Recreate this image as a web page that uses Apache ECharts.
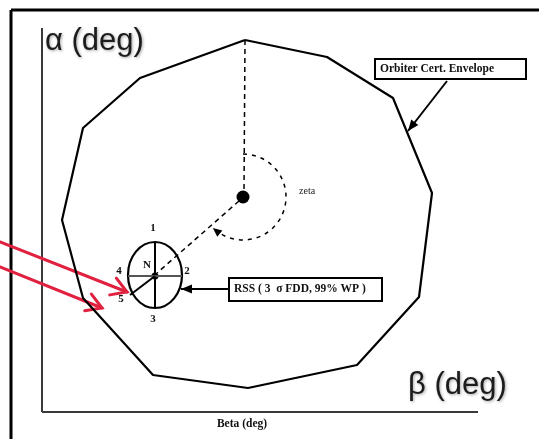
<!DOCTYPE html>
<html>
<head>
<meta charset="utf-8">
<script src="https://cdn.jsdelivr.net/npm/echarts@6/dist/echarts.min.js"></script>
<style>
  html, body { margin: 0; padding: 0; background: #fff; }
  #chart { width: 539px; height: 439px; }
</style>
</head>
<body>
<div id="chart"></div>
<script>
// plot units: x = beta, y = alpha (measured downward, axis inverted)
const envelope = [[245, 40], [327, 57], [393, 98], [432, 193], [419, 297], [357, 365], [248, 388], [153, 375], [83, 298], [62, 220], [83, 128], [140, 78]]
const frameLines = [[11, 10, 539, 10], [11, 10, 11, 439]]
const axisLines = [[42, 28, 42, 412], [42, 412, 478, 412]]
const dashLines = [[245, 40, 244, 191], [239, 201, 157, 273]]
const nominal = [[243, 197]]
const zetaArc = [[243, 197, 43, -90, 129]]
const rssEllipse = [[155, 275, 27, 33]]
const spokes = [[155, 242, 155, 308], [128, 276, 182, 276], [155, 276, 130, 295]]
const blackArrows = [[447, 81, 408, 131], [229, 289, 181, 289]]
const redArrows = [[0, 242, 127, 292], [0, 267, 102, 308]]
const boxes = [[375, 59, 526, 79], [229, 278, 382, 301]]
const bigLabels = [[45, 41, 'α (deg)'], [408, 385, 'β (deg)']]
const noteLabels = [[242, 424, 'Beta (deg)', 'center'], [380, 69, 'Orbiter Cert. Envelope', 'left'], [234, 289, 'RSS ( 3  σ FDD, 99% WP )', 'left']]
const zetaLabel = [[299, 191, 'zeta']]
const pointLabels = [[153, 228, '1'], [187, 271, '2'], [153, 319, '3'], [119, 271, '4'], [121, 299, '5'], [147, 265, 'N']]

const chart = echarts.init(document.getElementById('chart'), null, { renderer: 'canvas' })

const xy = (arr) => arr.map(d => [d[0], d[1]])

function segment (style) {
  return (params, api) => {
    const a = api.coord([api.value(0), api.value(1)])
    const b = api.coord([api.value(2), api.value(3)])
    return { type: 'line', shape: { x1: a[0], y1: a[1], x2: b[0], y2: b[1] }, style }
  }
}

function headPoints (tip, from, len, half) {
  const dx = tip[0] - from[0]
  const dy = tip[1] - from[1]
  const d = Math.sqrt(dx * dx + dy * dy) || 1
  const ux = dx / d
  const uy = dy / d
  const bx = tip[0] - ux * len
  const by = tip[1] - uy * len
  return [tip, [bx - uy * half, by + ux * half], [bx + uy * half, by - ux * half]]
}

function textItem (font, fill, align, list, shadow) {
  return (params, api) => {
    const p = api.coord([api.value(0), api.value(1)])
    const row = list[params.dataIndex]
    const style = {
      text: row[2],
      font,
      fill,
      align: row[3] || align,
      verticalAlign: 'middle'
    }
    if (shadow) {
      style.textShadowColor = 'rgba(0,0,0,0.35)'
      style.textShadowBlur = 3
      style.textShadowOffsetX = 1
      style.textShadowOffsetY = 1
    }
    return { type: 'text', x: p[0], y: p[1], style }
  }
}

const option = {
  animation: false,
  backgroundColor: '#ffffff',
  grid: { left: 0, right: 0, top: 0, bottom: 0 },
  xAxis: { type: 'value', min: 0, max: 539, show: false },
  yAxis: { type: 'value', min: 0, max: 439, inverse: true, show: false },
  series: [
    {
      type: 'custom',
      name: 'frame',
      data: frameLines,
      renderItem: segment({ stroke: '#000', lineWidth: 3 })
    },
    {
      type: 'custom',
      name: 'axes',
      data: axisLines,
      renderItem: segment({ stroke: '#3a3a3a', lineWidth: 2 })
    },
    {
      type: 'line',
      name: 'Orbiter Cert. Envelope',
      data: envelope.concat([envelope[0]]),
      symbol: 'none',
      lineStyle: { color: '#000', width: 2.2 }
    },
    {
      type: 'custom',
      name: 'guides',
      data: dashLines,
      renderItem: segment({ stroke: '#000', lineWidth: 1.5, lineDash: [5, 4] })
    },
    {
      type: 'custom',
      name: 'zeta',
      data: zetaArc,
      renderItem: (params, api) => {
        const c = api.coord([api.value(0), api.value(1)])
        const r = api.size([api.value(2), 0])[0]
        const a0 = api.value(3) * Math.PI / 180
        const a1 = api.value(4) * Math.PI / 180
        const end = [c[0] + r * Math.cos(a1), c[1] + r * Math.sin(a1)]
        const back = [end[0] + Math.sin(a1) * 6, end[1] - Math.cos(a1) * 6]
        return {
          type: 'group',
          children: [
            { type: 'arc', shape: { cx: c[0], cy: c[1], r, startAngle: a0, endAngle: a1, clockwise: true }, style: { stroke: '#000', fill: null, lineWidth: 1.5, lineDash: [4, 5] } },
            { type: 'polygon', shape: { points: headPoints([end[0] - Math.sin(a1) * 4, end[1] + Math.cos(a1) * 4], back, 9, 4) }, style: { fill: '#000' } }
          ]
        }
      }
    },
    {
      type: 'custom',
      name: 'nominal',
      data: nominal,
      renderItem: (params, api) => {
        const c = api.coord([api.value(0), api.value(1)])
        return { type: 'circle', shape: { cx: c[0], cy: c[1], r: 6.5 }, style: { fill: '#000' } }
      }
    },
    {
      type: 'custom',
      name: 'RSS',
      data: rssEllipse,
      renderItem: (params, api) => {
        const c = api.coord([api.value(0), api.value(1)])
        const s = api.size([api.value(2), api.value(3)])
        return {
          type: 'group',
          children: [
            { type: 'ellipse', shape: { cx: c[0], cy: c[1], rx: s[0], ry: s[1] }, style: { stroke: '#000', fill: null, lineWidth: 2.2 } },
            { type: 'circle', shape: { cx: c[0], cy: c[1] + 1, r: 3.5 }, style: { fill: '#000' } }
          ]
        }
      }
    },
    {
      type: 'custom',
      name: 'spokes',
      data: spokes,
      renderItem: (params, api) => {
        const a = api.coord([api.value(0), api.value(1)])
        const b = api.coord([api.value(2), api.value(3)])
        const grey = params.dataIndex === 1
        return { type: 'line', shape: { x1: a[0], y1: a[1], x2: b[0], y2: b[1] }, style: { stroke: grey ? '#555' : '#000', lineWidth: 2 } }
      }
    },
    {
      type: 'custom',
      name: 'boxes',
      data: boxes,
      renderItem: (params, api) => {
        const a = api.coord([api.value(0), api.value(1)])
        const b = api.coord([api.value(2), api.value(3)])
        return { type: 'rect', shape: { x: a[0], y: a[1], width: b[0] - a[0], height: b[1] - a[1] }, style: { stroke: '#000', fill: '#fff', lineWidth: 2 } }
      }
    },
    {
      type: 'custom',
      name: 'pointers',
      data: blackArrows,
      renderItem: (params, api) => {
        const a = api.coord([api.value(0), api.value(1)])
        const b = api.coord([api.value(2), api.value(3)])
        return {
          type: 'group',
          children: [
            { type: 'line', shape: { x1: a[0], y1: a[1], x2: b[0], y2: b[1] }, style: { stroke: '#000', lineWidth: 2 } },
            { type: 'polygon', shape: { points: headPoints(b, a, 11, 4.5) }, style: { fill: '#000' } }
          ]
        }
      }
    },
    {
      type: 'custom',
      name: 'red',
      data: redArrows,
      renderItem: (params, api) => {
        const a = api.coord([api.value(0), api.value(1)])
        const b = api.coord([api.value(2), api.value(3)])
        const h = headPoints(b, a, 15, 9)
        const st = { stroke: '#e0213f', lineWidth: 3, lineCap: 'round' }
        return {
          type: 'group',
          children: [
            { type: 'line', shape: { x1: a[0], y1: a[1], x2: b[0], y2: b[1] }, style: st },
            { type: 'polyline', shape: { points: [h[1], b, h[2]] }, style: Object.assign({ fill: null }, st) }
          ]
        }
      }
    },
    {
      type: 'custom',
      name: 'bigLabels',
      data: xy(bigLabels),
      renderItem: textItem('31px "Liberation Sans", Arial, sans-serif', '#1c1c1c', 'left', bigLabels, true)
    },
    {
      type: 'custom',
      name: 'notes',
      data: xy(noteLabels),
      renderItem: textItem('bold 11.5px "Liberation Serif", "Times New Roman", serif', '#111', 'left', noteLabels, false)
    },
    {
      type: 'custom',
      name: 'zetaLabel',
      data: xy(zetaLabel),
      renderItem: textItem('10px "Liberation Serif", "Times New Roman", serif', '#222', 'left', zetaLabel, false)
    },
    {
      type: 'custom',
      name: 'points',
      data: xy(pointLabels),
      renderItem: textItem('bold 11px "Liberation Serif", "Times New Roman", serif', '#111', 'center', pointLabels, false)
    }
  ]
}

chart.setOption(option)
</script>
</body>
</html>
